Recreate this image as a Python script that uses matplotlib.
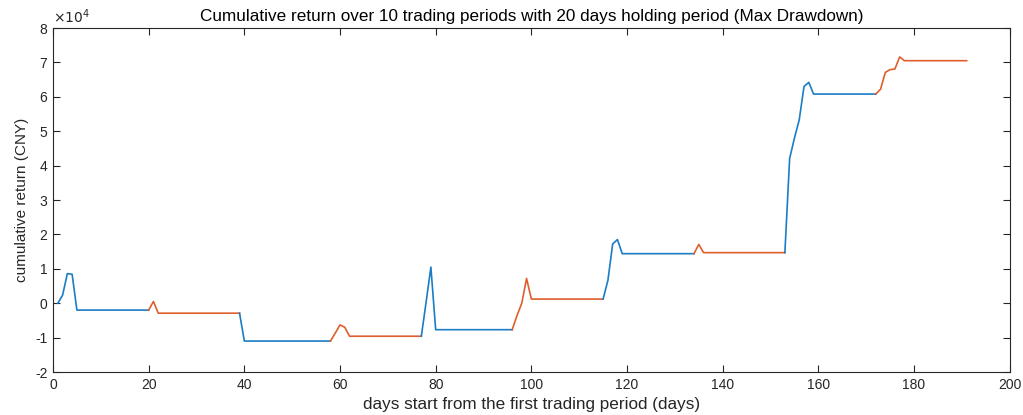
import numpy as np
import matplotlib
matplotlib.use('Agg')
import matplotlib.pyplot as plt
from matplotlib.ticker import FuncFormatter

plt.rcParams['font.family'] = ['Liberation Sans', 'DejaVu Sans']
plt.rcParams['axes.unicode_minus'] = False

# 每个交易周期的起止日
period_bounds = [1, 20, 39, 58, 77, 96, 115, 134, 153, 172, 191]

# 累计收益的拐点 (天, 元)
days = [1, 2, 3, 4, 5, 20, 21, 22, 39, 40, 58, 59, 60, 61, 62, 77, 78, 79, 80,
        96, 97, 98, 99, 100, 115, 116, 117, 118, 119, 134, 135, 136, 153,
        154, 155, 156, 157, 158, 159, 172, 173, 174, 175, 176, 177, 178, 191]
cum_return = [0, 2300, 8600, 8400, -2000, -2000, 500, -2900, -2900, -11000,
              -11000, -8700, -6300, -7000, -9600, -9600, 300, 10500, -7700,
              -7700, -3600, 0, 7200, 1200, 1200, 6600, 17200, 18500, 14400,
              14400, 17100, 14700, 14700, 42100, 48000, 53300, 63000, 64200,
              60800, 60800, 62200, 67100, 67900, 68100, 71600, 70500, 70500]

xticks = np.arange(0, 201, 20)
yticks = np.arange(-2, 9, 1) * 1e4
line_colors = ['#1A7DC6', '#DE5F2C']
ax_color = '#262626'

days = np.array(days)
cum_return = np.array(cum_return)

fig = plt.figure(figsize=(10.23, 4.15), dpi=100)
ax = fig.add_axes([0.0518, 0.1036, 0.9352, 0.8289])

# 按周期交替着色
for k in range(len(period_bounds) - 1):
    m = (days >= period_bounds[k]) & (days <= period_bounds[k + 1])
    ax.plot(days[m], cum_return[m], color=line_colors[k % 2], linewidth=1.2)

ax.set_xlim(0, 200)
ax.set_ylim(-2e4, 8e4)
ax.set_xticks(xticks)
ax.set_yticks(yticks)
ax.yaxis.set_major_formatter(FuncFormatter(lambda v, p: '%d' % round(v / 1e4)))

ax.tick_params(direction='in', top=True, right=True, length=5, width=0.8,
               colors=ax_color, labelsize=10, pad=4)
for s in ax.spines.values():
    s.set_color(ax_color)
    s.set_linewidth(0.8)

ax.text(0.0, 1.005, r'$\times10^4$', transform=ax.transAxes, fontsize=10,
        color=ax_color, ha='left', va='bottom')
ax.set_title('Cumulative return over 10 trading periods with 20 days holding period (Max Drawdown)',
             fontsize=12.3, color='black', pad=5)
ax.set_xlabel('days start from the first trading period (days)', fontsize=12.3, color=ax_color, labelpad=4)
ax.set_ylabel('cumulative return (CNY)', fontsize=11, color=ax_color, labelpad=4)

plt.savefig('out.png', dpi=100)
